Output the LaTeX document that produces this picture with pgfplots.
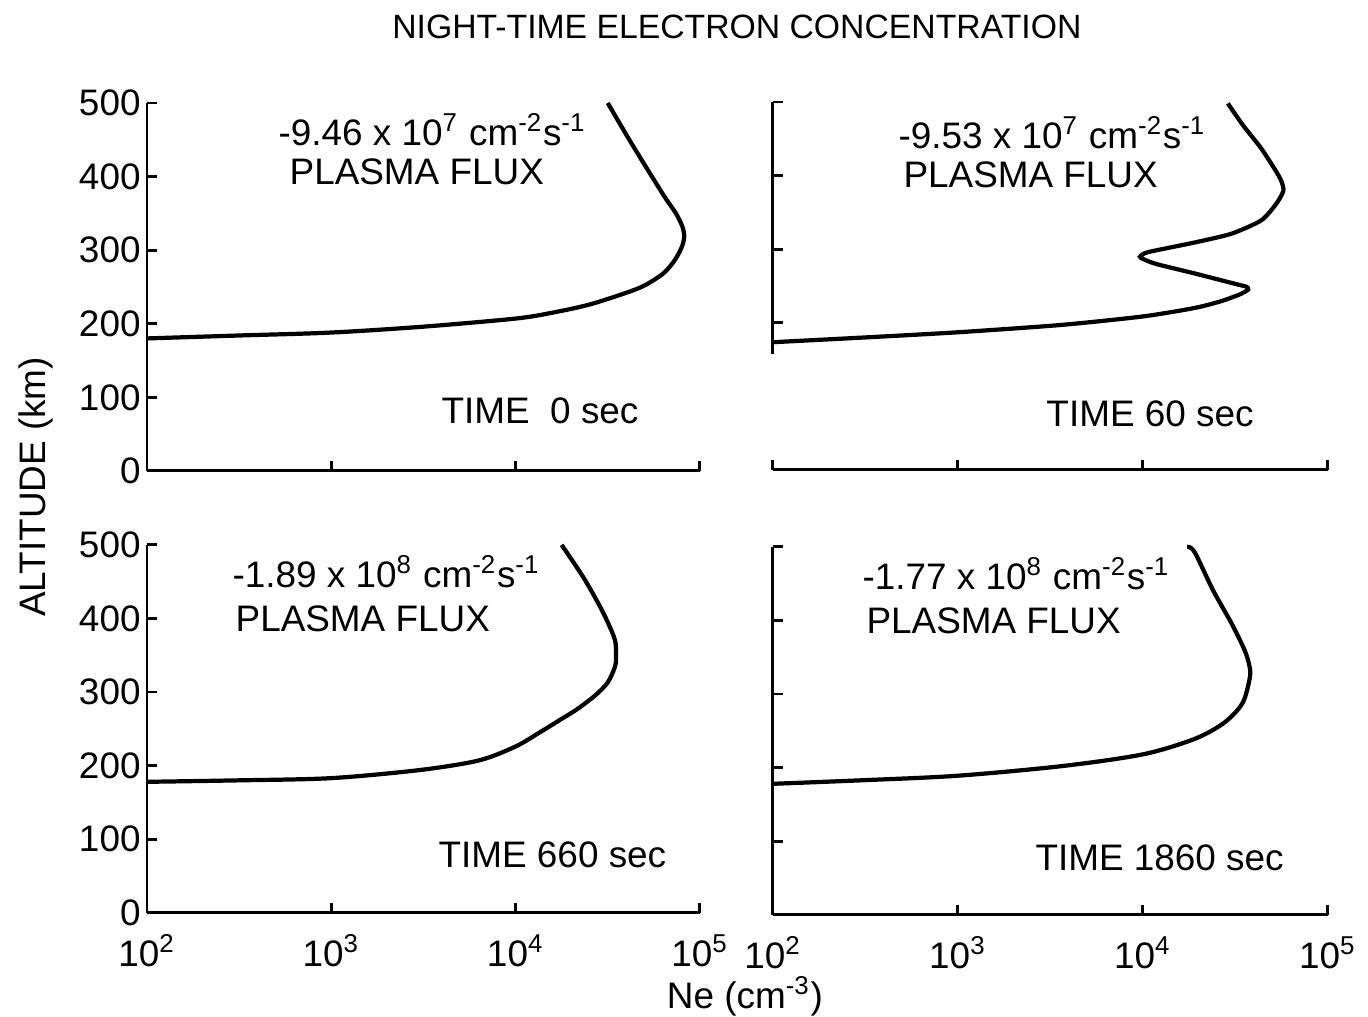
\documentclass[border=0pt]{standalone}
\usepackage{fontspec}
\setmainfont{Liberation Sans}
\setsansfont{Liberation Sans}
\usepackage{pgfplots}
\usepackage{pgfplotstable}
\pgfplotsset{compat=1.18}

\pgfplotstableread{
x alt
100 180
316 184
1000 188
3162 196
10000 207
15849 215
25119 226
39811 242
50119 252
63096 268
72444 285
79433 303
82224 318
80353 332
74131 350
64565 372
51286 412
40738 453
31623 500
}\tla

\pgfplotstableread{
x alt
100 173.5
316 180
1000 187
3631 197
10000 208.5
19055 220
26303 229
33113 238
37154 245
36308 249
33113 251.5
19055 267
11749 280
9772 288
9772 291
10715 296
19055 309
30200 321
43652 339
52481 361
57544 379
56234 392
52481 406
43652 437
34674 469
28840 498
}\tra

\pgfplotstableread{
x alt
100 178
316 180
1000 183
3020 194
6310 207
10000 226
13490 245
17378 262
21380 276
26915 295
31623 313
34674 335
35075 350
34674 370
31623 395
28184 420
23442 455
17783 500
}\bla

\pgfplotstableread{
x alt
100 178
316 183
1000 189
3631 202
10000 218
19055 239
27542 261
34674 288
38019 324
37584 340
35481 360
30200 396
23988 441
19055 493
17378 500
}\bra

\pgfplotsset{
  every axis/.append style={
    scale only axis, height=36.8mm,
    xmin=100, xmax=100000, ymin=0, ymax=500,
    axis lines*=left,
    axis line style={line width=0.8pt, black},
    tick style={line width=0.8pt, black},
    tick align=inside,
    major tick length=1.0mm,
    xtick={100,1000,10000,100000},
    ytick={0,100,200,300,400,500},
    tick label style={font=\fontsize{10.5}{12}\selectfont},
    yticklabel style={xshift=0.6mm, inner ysep=0pt},
    xticklabel style={inner ysep=0pt, yshift=-2.1mm},
    clip=false,
  },
}

\begin{document}
\begin{tikzpicture}
\path (0,0) rectangle (136.8mm,101.6mm);

% top left
\begin{semilogxaxis}[width=55.3mm, at={(14.7mm,54.5mm)}, anchor=south west,
  xminorticks=false,
  xticklabels={}, yticklabels={0,100,200,300,400,500}]
\addplot[black, line width=1.2pt, smooth, tension=0.5] table[x=x,y=alt] {\tla};
\end{semilogxaxis}

% top right
\begin{semilogxaxis}[width=55.5mm, at={(77.3mm,54.6mm)}, anchor=south west,
  xminorticks=false,
  y axis line style={draw=none},
  ytick={200,300,400,500}, xticklabels={}, yticklabels={}]
\addplot[black, line width=0.8pt] coordinates {(100,157) (100,500)};
\addplot[black, line width=1.2pt, smooth, tension=0.4] table[x=x,y=alt] {\tra};
\end{semilogxaxis}

% bottom left
\begin{semilogxaxis}[width=55.3mm, at={(14.7mm,10.3mm)}, anchor=south west,
  xminorticks=false,
  yticklabels={0,100,200,300,400,500},
  xticklabels={10\textsuperscript{2},10\textsuperscript{3},10\textsuperscript{4},10\textsuperscript{5}}]
\addplot[black, line width=1.2pt, smooth, tension=0.5] table[x=x,y=alt] {\bla};
\end{semilogxaxis}

% bottom right
\begin{semilogxaxis}[width=55.5mm, at={(77.3mm,10.1mm)}, anchor=south west,
  xminorticks=false,
  yticklabels={},
  xticklabels={10\textsuperscript{2},10\textsuperscript{3},10\textsuperscript{4},10\textsuperscript{5}}]
\addplot[black, line width=1.2pt, smooth, tension=0.5] table[x=x,y=alt] {\bra};
\end{semilogxaxis}

\begin{scope}[every node/.style={font=\fontsize{10.5}{12}\selectfont, inner sep=0pt}]
\node at (73.7mm,98.9mm) {\fontsize{9.6}{11}\selectfont NIGHT-TIME ELECTRON CONCENTRATION};
\node[rotate=90] at (3.6mm,52.9mm) {ALTITUDE (km)};
\node at (74.5mm,1.9mm) {Ne (cm\textsuperscript{-3})};

\node[anchor=west] at (27.8mm,88.6mm) {-9.46 x 10\textsuperscript{7} cm\textsuperscript{-2}s\textsuperscript{-1}};
\node[anchor=west] at (28.9mm,84.4mm) {PLASMA FLUX};
\node[anchor=west] at (44.1mm,60.5mm) {TIME\ \ 0 sec};

\node[anchor=west] at (89.8mm,88.3mm) {-9.53 x 10\textsuperscript{7} cm\textsuperscript{-2}s\textsuperscript{-1}};
\node[anchor=west] at (90.3mm,84.1mm) {PLASMA FLUX};
\node[anchor=west] at (104.6mm,60.2mm) {TIME 60 sec};

\node[anchor=west] at (23.2mm,44.4mm) {-1.89 x 10\textsuperscript{8} cm\textsuperscript{-2}s\textsuperscript{-1}};
\node[anchor=west] at (23.5mm,39.7mm) {PLASMA FLUX};
\node[anchor=west] at (43.8mm,16.1mm) {TIME 660 sec};

\node[anchor=west] at (86.2mm,44.2mm) {-1.77 x 10\textsuperscript{8} cm\textsuperscript{-2}s\textsuperscript{-1}};
\node[anchor=west] at (86.6mm,39.5mm) {PLASMA FLUX};
\node[anchor=west] at (103.5mm,15.8mm) {TIME 1860 sec};
\end{scope}
\end{tikzpicture}
\end{document}
